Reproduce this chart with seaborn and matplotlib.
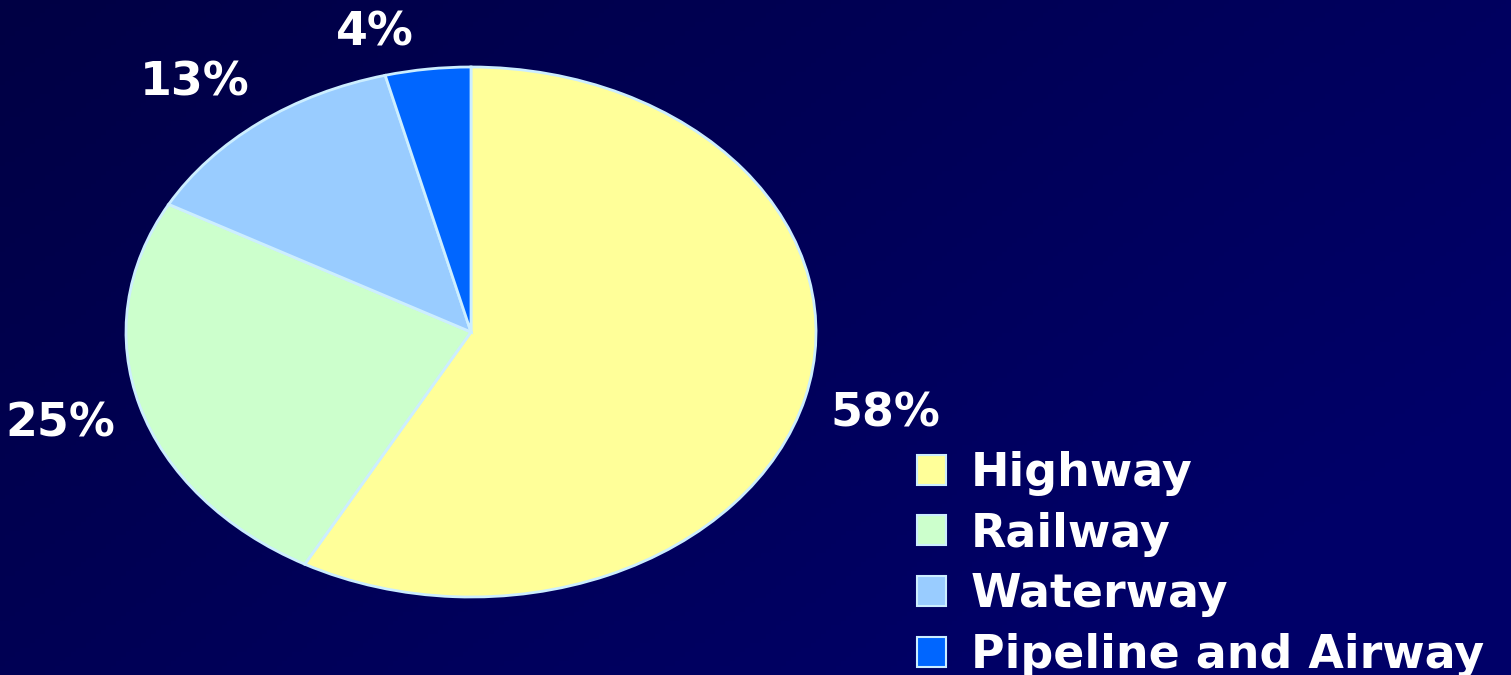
import numpy as np
import matplotlib
matplotlib.use("Agg")
import matplotlib.pyplot as plt
import seaborn as sns
from matplotlib.patches import Patch

categories = ["Highway", "Railway", "Waterway", "Pipeline and Airway"]
shares = [58, 25, 13, 4]
pct_labels = ["58%", "25%", "13%", "4%"]
colors = ["#FFFF99", "#CCFFCC", "#99CCFF", "#0066FF"]

sns.set_theme(style="white")
plt.rcParams["font.family"] = ["DejaVu Sans"]

W, H = 1511, 675
fig = plt.figure(figsize=(W / 100, H / 100), dpi=100)

# background gradient
bg = fig.add_axes([0, 0, 1, 1], zorder=0)
gx = np.linspace(0, 1, 300)
gy = np.linspace(0, 1, 150)
X, Y = np.meshgrid(gx, gy)
t = np.clip(0.75 * X + 0.45 * Y, 0, 1)
c0 = np.array([0x00, 0x00, 0x44]) / 255
c1 = np.array([0x00, 0x00, 0x68]) / 255
img = c0[None, None, :] * (1 - t[..., None]) + c1[None, None, :] * t[..., None]
bg.imshow(img, aspect="auto", extent=[0, 1, 0, 1], origin="upper")
bg.set_axis_off()

# pie axes (elliptical pie)
ax = fig.add_axes([126 / W, (H - 597) / H, 690 / W, 530 / H], zorder=1)
ax.patch.set_alpha(0)
wedges, texts, autotexts = ax.pie(
    shares,
    colors=colors,
    startangle=90,
    counterclock=False,
    autopct=lambda p: f"{p:.0f}%",
    pctdistance=1.24,
    wedgeprops=dict(edgecolor="#CCEEFF", linewidth=2),
    textprops=dict(color="white", fontsize=33, fontweight="bold"),
)
ax.set_aspect("auto")
ax.set_xlim(-1, 1)
ax.set_ylim(-1, 1)
ax.set_axis_off()

# nudge small-slice labels like the reference
autotexts[2].set_position((-0.80, 0.94))
autotexts[3].set_position((-0.28, 1.13))
for t_ in autotexts:
    t_.set_clip_on(False)

handles = [Patch(facecolor=c, edgecolor="#CCEEFF", linewidth=1.5) for c in colors]
leg = fig.legend(
    handles, categories,
    loc="upper left",
    bbox_to_anchor=(917 / W, 1 - 451 / H),
    frameon=False,
    borderpad=0, borderaxespad=0,
    handlelength=0.63, handleheight=0.63,
    handletextpad=0.55, labelspacing=0.34,
    prop=dict(size=33, weight="bold"),
)
for txt in leg.get_texts():
    txt.set_color("white")

fig.savefig("out.png", dpi=100)
